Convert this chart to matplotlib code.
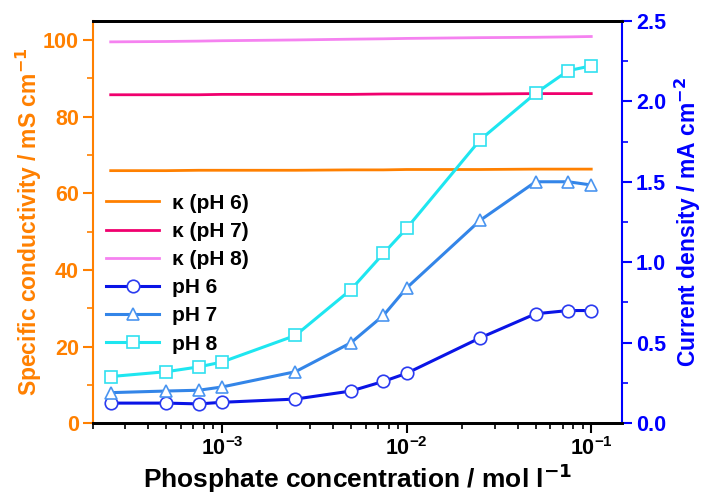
import numpy as np
import matplotlib.pyplot as plt
from matplotlib.ticker import MultipleLocator, LogLocator, NullFormatter

plt.rcParams['font.family'] = ['Liberation Sans', 'DejaVu Sans']
plt.rcParams['font.weight'] = 'bold'
plt.rcParams['mathtext.default'] = 'bf'

# phosphate concentration / mol l-1
conc = [2.5e-4, 5e-4, 7.5e-4, 1e-3, 2.5e-3, 5e-3, 7.5e-3, 1e-2, 2.5e-2, 5e-2, 7.5e-2, 1e-1]

# specific conductivity / mS cm-1 (left axis)
kappa_ph6 = [65.9, 65.9, 66.0, 66.0, 66.0, 66.1, 66.1, 66.2, 66.2, 66.3, 66.3, 66.3]
kappa_ph7 = [85.7, 85.7, 85.7, 85.8, 85.8, 85.8, 85.9, 85.9, 85.9, 86.0, 86.0, 86.0]
kappa_ph8 = [99.5, 99.6, 99.7, 99.8, 100.0, 100.2, 100.3, 100.4, 100.6, 100.7, 100.8, 100.9]

# current density / mA cm-2 (right axis)
j_ph6 = [0.125, 0.125, 0.12, 0.13, 0.15, 0.20, 0.26, 0.31, 0.53, 0.68, 0.70, 0.70]
j_ph7 = [0.19, 0.20, 0.205, 0.225, 0.32, 0.50, 0.67, 0.84, 1.26, 1.50, 1.50, 1.48]
j_ph8 = [0.29, 0.32, 0.35, 0.38, 0.545, 0.83, 1.055, 1.21, 1.76, 2.05, 2.19, 2.22]

orange = '#FF8000'
blue = '#0000FF'

fig, ax = plt.subplots(figsize=(7.03, 4.95), dpi=100)
fig.subplots_adjust(left=0.132, right=0.885, top=0.958, bottom=0.145)
ax2 = ax.twinx()

l1, = ax.plot(conc, kappa_ph6, color='#FF8000', lw=2, label='κ (pH 6)')
l2, = ax.plot(conc, kappa_ph7, color='#F0006E', lw=2, label='κ (pH 7)')
l3, = ax.plot(conc, kappa_ph8, color='#F582F0', lw=2, label='κ (pH 8)')

mk = dict(ms=9, mfc='white', mew=1.2, lw=2.2)
l4, = ax2.plot(conc, j_ph6, color='#0A14E6', marker='o', mec='#2A3AF0', label='pH 6', **mk)
l5, = ax2.plot(conc, j_ph7, color='#3385E8', marker='^', mec='#4A95F0', label='pH 7', **mk)
l6, = ax2.plot(conc, j_ph8, color='#1EE6F0', marker='s', mec='#30E0F0', label='pH 8', **mk)

ax.set_xscale('log')
ax.set_xlim(2e-4, 0.147)
ax.set_ylim(0, 105)
ax2.set_ylim(0, 2.5)

ax.yaxis.set_major_locator(MultipleLocator(20))
ax.yaxis.set_minor_locator(MultipleLocator(10))
ax2.yaxis.set_major_locator(MultipleLocator(0.5))
ax2.yaxis.set_minor_locator(MultipleLocator(0.25))
ax.xaxis.set_major_locator(LogLocator(base=10, numticks=10))
ax.xaxis.set_minor_locator(LogLocator(base=10, subs=np.arange(2, 10), numticks=20))
ax.xaxis.set_minor_formatter(NullFormatter())

ax.tick_params(axis='x', which='major', direction='out', length=7, width=1.5, labelsize=15.5, pad=3)
ax.tick_params(axis='x', which='minor', direction='out', length=4, width=1.2)
ax.tick_params(axis='y', which='major', direction='out', length=7, width=1.5,
               colors=orange, labelsize=15.5, pad=3)
ax.tick_params(axis='y', which='minor', direction='out', length=4, width=1.2, colors=orange)
ax2.tick_params(axis='y', which='major', direction='out', length=7, width=1.5,
                colors=blue, labelsize=15.5, pad=3)
ax2.tick_params(axis='y', which='minor', direction='out', length=4, width=1.2, colors=blue)
ax.set_yticks([0, 20, 40, 60, 80, 100])
ax2.set_yticks([0.0, 0.5, 1.0, 1.5, 2.0, 2.5])
ax2.set_yticklabels(['0.0', '0.5', '1.0', '1.5', '2.0', '2.5'])

for a in (ax, ax2):
    a.spines['top'].set_linewidth(2)
    a.spines['bottom'].set_linewidth(2)
ax.spines['left'].set_color(orange)
ax.spines['left'].set_linewidth(1.5)
ax2.spines['left'].set_visible(False)
ax2.spines['right'].set_color(blue)
ax2.spines['right'].set_linewidth(1.5)
ax.spines['right'].set_visible(False)

ax.set_xlabel('Phosphate concentration / mol l$^{-1}$', fontsize=19, fontweight='bold')
ax.xaxis.label.set_va('baseline')
ax.xaxis.set_label_coords(0.5, -0.162)
ax.set_ylabel('Specific conductivity / mS cm$^{-1}$', fontsize=16.5, fontweight='bold',
              color=orange, labelpad=-1)
ax2.set_ylabel('Current density / mA cm$^{-2}$', fontsize=16.5, fontweight='bold',
               color=blue, labelpad=5)

leg = ax2.legend(handles=[l1, l2, l3, l4, l5, l6], loc='upper left',
                 bbox_to_anchor=(-0.01, 0.617), frameon=False, fontsize=15,
                 handlelength=2.55, labelspacing=0.44, handletextpad=0.6)

fig.savefig('out.png', dpi=100)
